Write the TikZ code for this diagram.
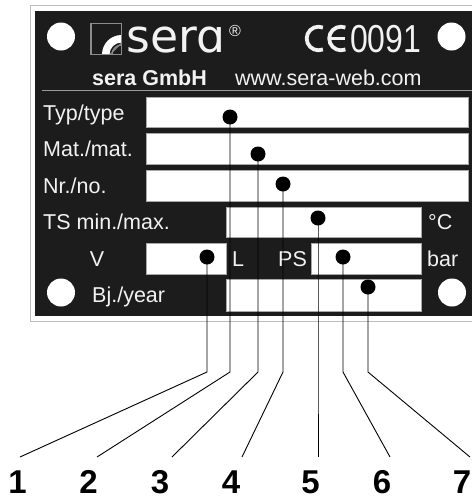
\documentclass[tikz,border=0pt]{standalone}
\usepackage{fontspec}
\setmainfont{Liberation Sans}
\newfontfamily\logofont{DejaVu Sans}
\definecolor{plate}{HTML}{1C1C1C}
\definecolor{platetext}{HTML}{F2F2F2}
\definecolor{framegray}{HTML}{BDBDBD}
\definecolor{sepgray}{HTML}{9A9A9A}
\definecolor{boxgray}{HTML}{A8A8A8}
\definecolor{logogray}{HTML}{8C8C8C}
\tikzset{
  lbl/.style={text=platetext, font=\fontsize{21.5}{24}\selectfont, inner sep=0pt, anchor=base west},
  fieldbox/.style={fill=white, draw=boxgray, line width=0.8pt},
  hole/.style={circle, fill=white, minimum size=28pt, inner sep=0pt},
  dot/.style={circle, fill=black, minimum size=15pt, inner sep=0pt},
  leader/.style={draw=black, line width=0.9pt},
  num/.style={font=\fontsize{33}{35}\selectfont\bfseries, inner sep=0pt, anchor=base},
  cemark/.style={draw=platetext, line width=3.8pt}
}
\begin{document}
\begin{tikzpicture}[x=1pt,y=-1pt]
\useasboundingbox (0,0) rectangle (472,499);
% plate frame and body
\draw[framegray, line width=1pt] (473,5) -- (30,5) -- (30,321) -- (473,321);
\fill[plate] (35,11) rectangle (472,316);
% holes
\node[hole] (h1) at (61,36.5) {};
\node[hole] (h2) at (451.5,36.5) {};
\node[hole] (h3) at (61,292.5) {};
\node[hole] (h4) at (452,292.5) {};
% logo square
\begin{scope}
\clip (91,23.5) rectangle (121.5,54.5);
\fill[white] (102,54.5) arc[start angle=180,end angle=270,radius=19.5] -- (121.5,42.5) arc[start angle=270,end angle=180,radius=12] -- cycle;
\draw[logogray, line width=1.2pt] (112,54.5) arc[start angle=180,end angle=270,radius=9.5];
\draw[logogray, line width=1pt] (110,54.5) -- (121.5,43);
\end{scope}
\draw[logogray, line width=1.4pt] (91,23.5) rectangle (121.5,54.5);
\node[inner sep=0pt, anchor=base west, text=platetext, font=\logofont\fontsize{45.7}{48}\selectfont] (logo) at (126,52) {serɑ};
\node[inner sep=0pt, text=platetext, font=\fontsize{16}{18}\selectfont] (reg) at (235,31) {\textregistered};
% CE mark
\draw[cemark] ([shift={(68:11.8)}]318.5,38.5) arc[start angle=68,end angle=292,radius=11.8];
\draw[cemark] ([shift={(68:11.8)}]341,38.5) arc[start angle=68,end angle=292,radius=11.8];
\draw[draw=platetext, line width=3.2pt] (330,38.5) -- (344.5,38.5);
\node[inner sep=0pt, anchor=base west, text=platetext, font=\fontsize{39}{42}\selectfont, xscale=0.82] (cenum) at (350,52.5) {0091};
% company line
\node[lbl, font=\fontsize{21.5}{24}\selectfont\bfseries] (gmbh) at (92,85) {sera GmbH};
\node[lbl] (web) at (235,85) {www.sera-web.com};
\draw[sepgray, line width=1.5pt] (42,90.5) -- (472,90.5);
% field boxes
\draw[fieldbox] (146,97) rectangle (468,127);
\draw[fieldbox] (146,133) rectangle (468,164);
\draw[fieldbox] (146,170) rectangle (468,201);
\draw[fieldbox] (226,207) rectangle (421,237);
\draw[fieldbox] (146,243) rectangle (226,274);
\draw[fieldbox] (311,243) rectangle (421,274);
\draw[fieldbox] (226,279) rectangle (421,311);
% labels
\node[lbl] (ltyp) at (43,120.5) {Typ/type};
\node[lbl] (lmat) at (43,156.5) {Mat./mat.};
\node[lbl] (lnr) at (43,193.5) {Nr./no.};
\node[lbl] (lts) at (43,229.5) {TS min./max.};
\node[lbl, anchor=base] (lv) at (97,266) {V};
\node[lbl] (ll) at (232,266) {L};
\node[lbl] (lps) at (278,266) {PS};
\node[lbl] (lc) at (428,229.5) {°C};
\node[lbl] (lbar) at (427,266) {bar};
\node[lbl] (lbj) at (92,302.5) {Bj./year};
% dots
\node[dot] (dtyp) at (230,117) {};
\node[dot] (dmat) at (258,154) {};
\node[dot] (dnr) at (283,184) {};
\node[dot] (dts) at (318,218) {};
\node[dot] (dv) at (207,257) {};
\node[dot] (dps) at (343,257) {};
\node[dot] (dbj) at (368,287) {};
% numbers
\node[num] (n1) at (17.5,493.5) {1};
\node[num] (n2) at (88.5,493.5) {2};
\node[num] (n3) at (160,493.5) {3};
\node[num] (n4) at (231,493.5) {4};
\node[num] (n5) at (310.5,493.5) {5};
\node[num] (n6) at (382,493.5) {6};
\node[num] (n7) at (462,493.5) {7};
% leader ends
\coordinate (by) at (0,372);
\coordinate (e1) at (20,457);
\coordinate (e2) at (97,457);
\coordinate (e3) at (172,457);
\coordinate (e4) at (242,457);
\coordinate (e5) at (318,457);
\coordinate (e6) at (390,457);
\coordinate (e7) at (470,457);
\draw[leader] (dv.center) -- (dv.center |- by) -- (e1);
\draw[leader] (dtyp.center) -- (dtyp.center |- by) -- (e2);
\draw[leader] (dmat.center) -- (dmat.center |- by) -- (e3);
\draw[leader] (dnr.center) -- (dnr.center |- by) -- (e4);
\draw[leader] (dts.center) -- (dts.center |- by) -- (e5);
\draw[leader] (dps.center) -- (dps.center |- by) -- (e6);
\draw[leader] (dbj.center) -- (dbj.center |- by) -- (e7);
\end{tikzpicture}
\end{document}
